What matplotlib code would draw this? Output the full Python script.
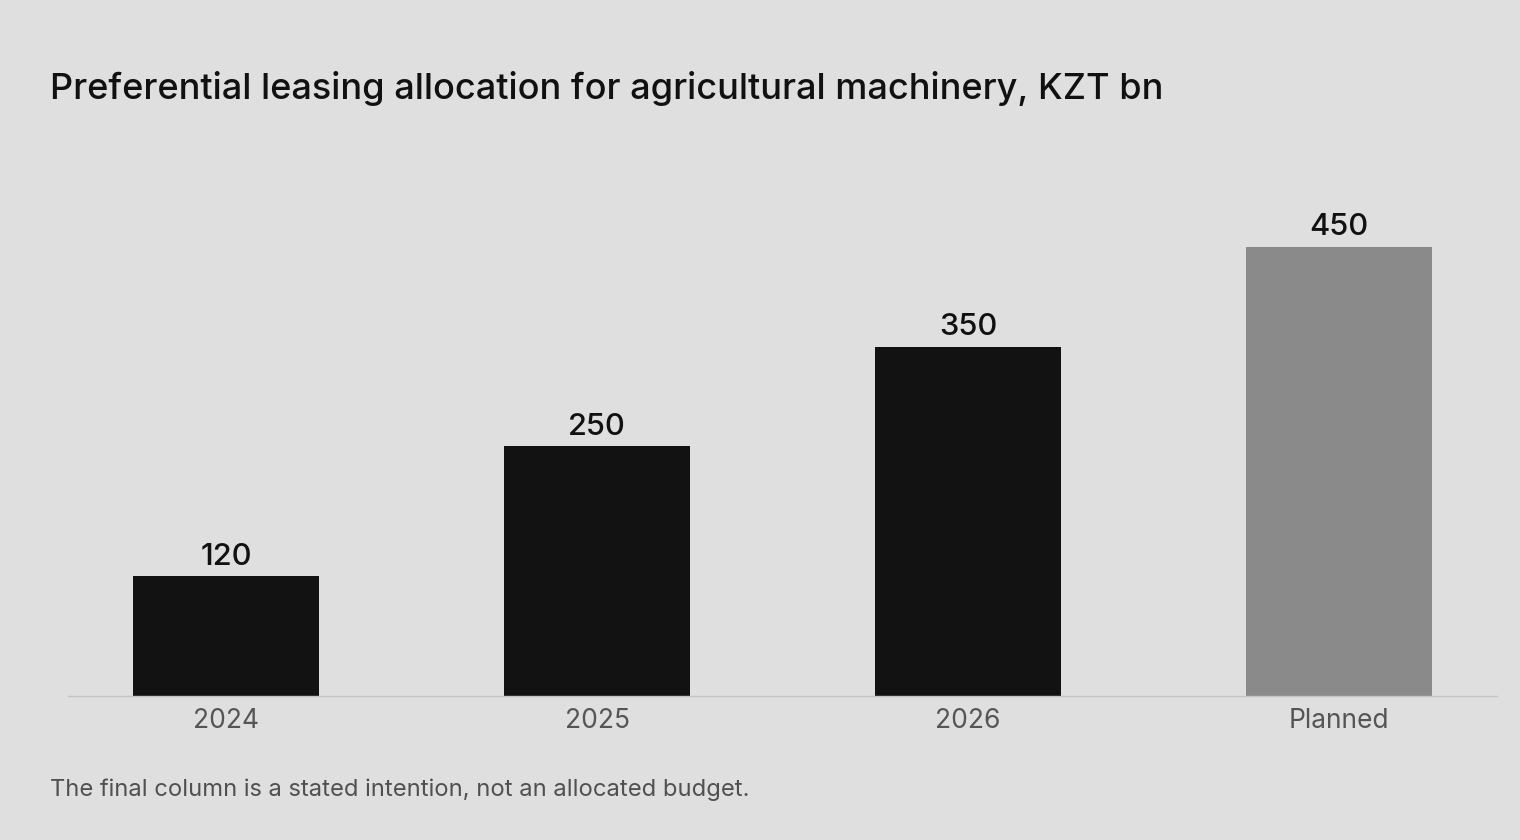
import matplotlib
matplotlib.use("Agg")
import matplotlib.pyplot as plt

categories = ["2024", "2025", "2026", "Planned"]
values = [120, 250, 350, 450]
bar_colors = ["#121212", "#121212", "#121212", "#8a8a8a"]

title = "Preferential leasing allocation for agricultural machinery, KZT bn"
note = "The final column is a stated intention, not an allocated budget."

plt.rcParams['font.family'] = ['Inter', 'DejaVu Sans']
bg = "#dfdfdf"

fig = plt.figure(figsize=(15.2, 8.4), dpi=100, facecolor=bg)
ax = fig.add_axes([68 / 1520, 144 / 840, (1497 - 68) / 1520, 0.5941])
ax.set_facecolor(bg)

x = range(len(categories))
ax.bar(x, values, width=0.5, color=bar_colors, zorder=2)
for xi, v in zip(x, values):
    ax.annotate(f"{v}", (xi, v), xytext=(0, 4), textcoords="offset points",
                ha="center", va="bottom", fontsize=22.2, fontweight="medium",
                color="#111111")

ax.set_xlim(-0.426, 3.426)
ax.set_ylim(0, 500)
ax.set_xticks(list(x))
ax.set_xticklabels(categories, fontsize=19, color="#555555")
ax.tick_params(axis="x", length=0, pad=9)
ax.set_yticks([])
for s in ["top", "right", "left"]:
    ax.spines[s].set_visible(False)
ax.spines["bottom"].set_color("#c4c4c4")
ax.spines["bottom"].set_linewidth(1)

fig.text(50 / 1520, 1 - 88 / 840, title, fontsize=26.0, fontweight="medium",
         color="#111111", ha="left", va="center")
fig.text(50 / 1520, 1 - 790 / 840, note, fontsize=17.1, color="#505050",
         ha="left", va="center")

fig.savefig("out.png", dpi=100, facecolor=bg)
